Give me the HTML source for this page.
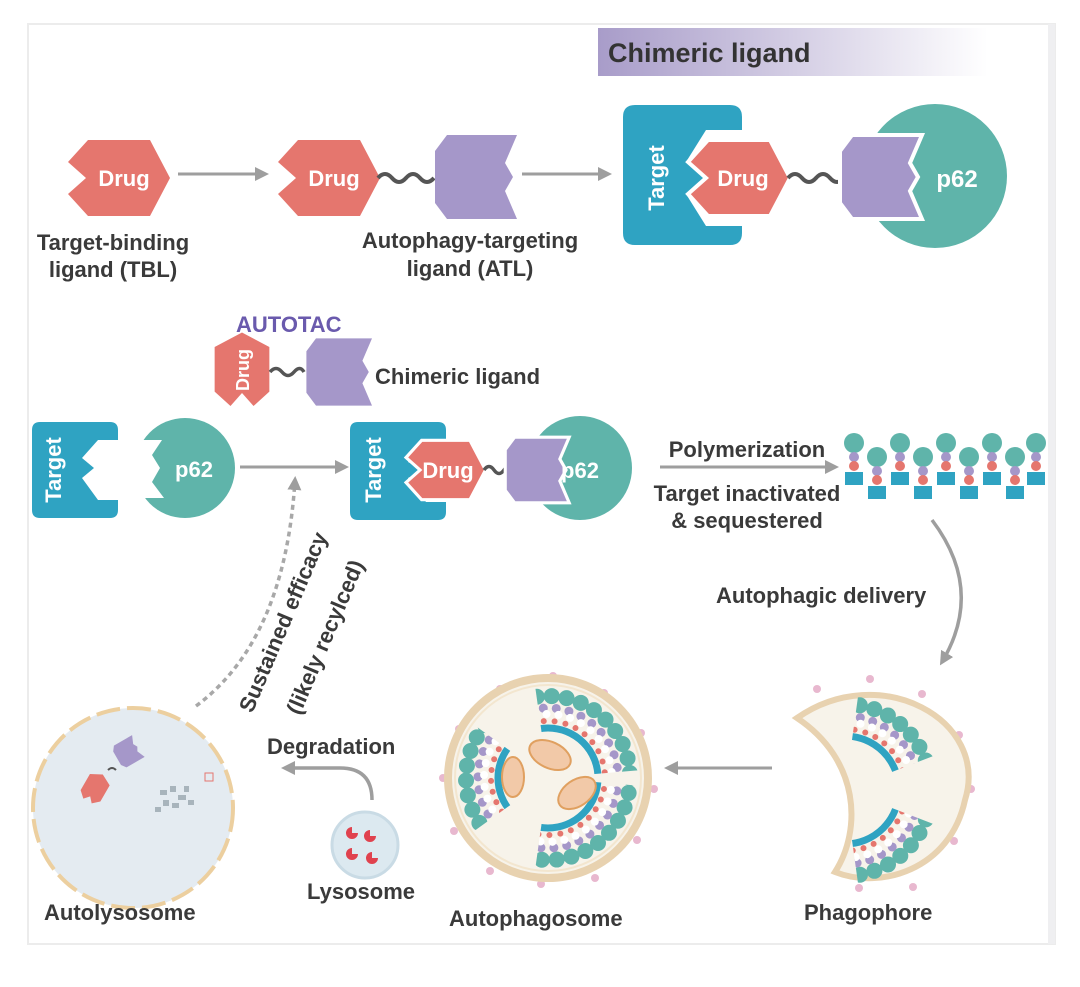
<!DOCTYPE html>
<html><head><meta charset="utf-8"><style>
html,body{margin:0;padding:0;background:#fff;}
svg{display:block;font-family:"Liberation Sans",sans-serif;}
.t{font-size:22px;fill:#3a3a3a;font-weight:bold;}
.w{fill:#fff;font-size:22px;font-weight:bold;}
</style></head><body>
<svg width="1080" height="987" viewBox="0 0 1080 987" xmlns="http://www.w3.org/2000/svg">
<defs>
<linearGradient id="hg" x1="0" x2="1"><stop offset="0" stop-color="#a89cc9"/><stop offset="1" stop-color="#ffffff"/></linearGradient>
<path id="drug" d="M-30,-38 L32,-38 L52,0 L32,38 L-30,38 L-50,16 L-32,0 L-50,-16 Z"/>
<path id="atl" d="M-30,-42 L40,-42 L28,-14 L36,0 L28,14 L40,42 L-30,42 L-42,26 L-42,-26 Z"/>
<marker id="ah2" markerWidth="14" markerHeight="14" refX="10" refY="7" orient="auto" markerUnits="userSpaceOnUse"><path d="M0,0 L14,7 L0,14 Z" fill="#9e9e9e"/></marker>
<clipPath id="w1"><polygon points="548,778 530,650 625,676 678,767"/></clipPath>
<clipPath id="w2"><polygon points="548,778 445,852 420,778 445,704"/></clipPath>
<clipPath id="w3"><polygon points="548,778 678,789 625,880 530,906"/></clipPath>
<clipPath id="p1"><polygon points="845,790 862,668 925,686 962,745"/></clipPath>
<clipPath id="p2"><polygon points="845,790 962,835 925,894 862,912"/></clipPath>
<g id="cargoA">
 <circle cx="548" cy="778" r="82" fill="none" stroke="#5fb4aa" stroke-width="16" stroke-dasharray="0 15" stroke-linecap="round"/>
 <circle cx="548" cy="778" r="70" fill="none" stroke="#a597c9" stroke-width="9" stroke-dasharray="0 13" stroke-linecap="round"/>
 <circle cx="548" cy="778" r="64" fill="none" stroke="#fff" stroke-width="8" stroke-dasharray="0 12" stroke-linecap="round"/>
 <circle cx="548" cy="778" r="57" fill="none" stroke="#e5766e" stroke-width="6" stroke-dasharray="0 11" stroke-linecap="round"/>
 <circle cx="548" cy="778" r="50" fill="none" stroke="#2fa3c2" stroke-width="7"/>
</g>
<g id="cargoP">
 <circle cx="845" cy="790" r="86" fill="none" stroke="#5fb4aa" stroke-width="16" stroke-dasharray="0 15" stroke-linecap="round"/>
 <circle cx="845" cy="790" r="74" fill="none" stroke="#a597c9" stroke-width="9" stroke-dasharray="0 13" stroke-linecap="round"/>
 <circle cx="845" cy="790" r="68" fill="none" stroke="#fff" stroke-width="8" stroke-dasharray="0 12" stroke-linecap="round"/>
 <circle cx="845" cy="790" r="61" fill="none" stroke="#e5766e" stroke-width="6" stroke-dasharray="0 11" stroke-linecap="round"/>
 <circle cx="845" cy="790" r="54" fill="none" stroke="#2fa3c2" stroke-width="7"/>
</g>
</defs>

<rect x="28" y="24" width="1027" height="920" fill="#fff" stroke="#ececec" stroke-width="2"/>
<rect x="1048" y="24" width="7" height="920" fill="#efeff1"/>

<rect x="598" y="28" width="390" height="48" fill="url(#hg)"/>
<text x="608" y="62" style="font-size:27px;fill:#333;font-weight:bold">Chimeric ligand</text>

<!-- top row -->
<use href="#drug" transform="translate(118,178)" fill="#e5766e"/>
<text x="124" y="186" class="w" text-anchor="middle">Drug</text>
<line x1="178" y1="174" x2="265" y2="174" stroke="#9e9e9e" stroke-width="3" marker-end="url(#ah2)"/>
<text x="113" y="250" class="t" text-anchor="middle">Target-binding</text>
<text x="113" y="277" class="t" text-anchor="middle">ligand (TBL)</text>

<use href="#drug" transform="translate(328,178)" fill="#e5766e"/>
<text x="334" y="186" class="w" text-anchor="middle">Drug</text>
<path d="M378,178 q7,-8 14,0 t14,0 t14,0 t14,0" fill="none" stroke="#555" stroke-width="4"/>
<use href="#atl" transform="translate(477,177)" fill="#a597c9"/>
<line x1="522" y1="174" x2="608" y2="174" stroke="#9e9e9e" stroke-width="3" marker-end="url(#ah2)"/>
<text x="470" y="248" class="t" text-anchor="middle">Autophagy-targeting</text>
<text x="470" y="276" class="t" text-anchor="middle">ligand (ATL)</text>

<path d="M635,105 H730 Q742,105 742,117 V130 H706 L686,162 L708,178 L686,194 L706,226 H742 V233 Q742,245 730,245 H635 Q623,245 623,233 V117 Q623,105 635,105 Z" fill="#2fa3c2"/>
<text transform="translate(664,178) rotate(-90)" class="w" text-anchor="middle">Target</text>
<circle cx="935" cy="176" r="72" fill="#5fb4aa"/>
<use href="#drug" transform="translate(738,178)" fill="#e5766e" stroke="#fff" stroke-width="4"/>
<text x="743" y="186" class="w" text-anchor="middle">Drug</text>
<path d="M788,178 q7,-8 14,0 t14,0 t14,0 t14,0" fill="none" stroke="#555" stroke-width="4"/>
<use href="#atl" transform="translate(882,177)" fill="#a597c9" stroke="#fff" stroke-width="4"/>
<text x="957" y="187" class="w" text-anchor="middle" style="font-size:24px">p62</text>

<!-- AUTOTAC -->
<text x="236" y="332" style="font-size:22px;fill:#6a5aad;font-weight:bold">AUTOTAC</text>
<use href="#drug" transform="translate(242,370) rotate(-90) scale(0.72)" fill="#e5766e"/>
<text transform="translate(249,370) rotate(-90)" class="w" text-anchor="middle" style="font-size:18px">Drug</text>
<path d="M270,372 q6,-7 12,0 t12,0 t10,0" fill="none" stroke="#555" stroke-width="3.5"/>
<use href="#atl" transform="translate(340,372) scale(0.8)" fill="#a597c9"/>
<text x="375" y="384" class="t">Chimeric ligand</text>

<!-- row 2 left -->
<path d="M40,422 H110 Q118,422 118,430 V440 H98 L82,458 L94,468 L82,478 L98,500 H118 V510 Q118,518 110,518 H40 Q32,518 32,510 V430 Q32,422 40,422 Z" fill="#2fa3c2"/>
<text transform="translate(61,470) rotate(-90)" class="w" text-anchor="middle">Target</text>
<circle cx="185" cy="468" r="50" fill="#5fb4aa"/>
<path d="M128,428 L130,440 H162 L152,455 L160,468 L152,482 L164,498 H128 Z" fill="#fff"/>
<text x="194" y="477" class="w" text-anchor="middle">p62</text>
<line x1="240" y1="467" x2="345" y2="467" stroke="#9e9e9e" stroke-width="3" marker-end="url(#ah2)"/>

<!-- row 2 middle -->
<path d="M358,422 H438 Q446,422 446,430 V440 H426 L408,462 L424,470 L408,478 L426,502 H446 V512 Q446,520 438,520 H358 Q350,520 350,512 V430 Q350,422 358,422 Z" fill="#2fa3c2"/>
<text transform="translate(381,470) rotate(-90)" class="w" text-anchor="middle">Target</text>
<circle cx="580" cy="468" r="52" fill="#5fb4aa"/>
<use href="#drug" transform="translate(445,470) scale(0.78)" fill="#e5766e" stroke="#fff" stroke-width="4"/>
<text x="448" y="478" class="w" text-anchor="middle">Drug</text>
<path d="M484,470 q5,-7 10,0 t10,0 t8,0" fill="none" stroke="#555" stroke-width="3.5"/>
<use href="#atl" transform="translate(538,470) scale(0.78)" fill="#a597c9" stroke="#fff" stroke-width="4"/>
<text x="580" y="478" class="w" text-anchor="middle">p62</text>

<!-- polymerization -->
<line x1="660" y1="467" x2="835" y2="467" stroke="#9e9e9e" stroke-width="3" marker-end="url(#ah2)"/>
<text x="747" y="457" class="t" text-anchor="middle">Polymerization</text>
<text x="747" y="501" class="t" text-anchor="middle">Target inactivated</text>
<text x="747" y="528" class="t" text-anchor="middle">&amp; sequestered</text>
<g>
 <g transform="translate(854,0)"><circle cx="0" cy="443" r="10" fill="#5fb4aa"/><circle cx="0" cy="457" r="5" fill="#a597c9"/><circle cx="0" cy="466" r="5" fill="#e5766e"/><rect x="-9" y="472" width="18" height="13" fill="#2fa3c2"/></g>
 <g transform="translate(877,14)"><circle cx="0" cy="443" r="10" fill="#5fb4aa"/><circle cx="0" cy="457" r="5" fill="#a597c9"/><circle cx="0" cy="466" r="5" fill="#e5766e"/><rect x="-9" y="472" width="18" height="13" fill="#2fa3c2"/></g>
 <g transform="translate(900,0)"><circle cx="0" cy="443" r="10" fill="#5fb4aa"/><circle cx="0" cy="457" r="5" fill="#a597c9"/><circle cx="0" cy="466" r="5" fill="#e5766e"/><rect x="-9" y="472" width="18" height="13" fill="#2fa3c2"/></g>
 <g transform="translate(923,14)"><circle cx="0" cy="443" r="10" fill="#5fb4aa"/><circle cx="0" cy="457" r="5" fill="#a597c9"/><circle cx="0" cy="466" r="5" fill="#e5766e"/><rect x="-9" y="472" width="18" height="13" fill="#2fa3c2"/></g>
 <g transform="translate(946,0)"><circle cx="0" cy="443" r="10" fill="#5fb4aa"/><circle cx="0" cy="457" r="5" fill="#a597c9"/><circle cx="0" cy="466" r="5" fill="#e5766e"/><rect x="-9" y="472" width="18" height="13" fill="#2fa3c2"/></g>
 <g transform="translate(969,14)"><circle cx="0" cy="443" r="10" fill="#5fb4aa"/><circle cx="0" cy="457" r="5" fill="#a597c9"/><circle cx="0" cy="466" r="5" fill="#e5766e"/><rect x="-9" y="472" width="18" height="13" fill="#2fa3c2"/></g>
 <g transform="translate(992,0)"><circle cx="0" cy="443" r="10" fill="#5fb4aa"/><circle cx="0" cy="457" r="5" fill="#a597c9"/><circle cx="0" cy="466" r="5" fill="#e5766e"/><rect x="-9" y="472" width="18" height="13" fill="#2fa3c2"/></g>
 <g transform="translate(1015,14)"><circle cx="0" cy="443" r="10" fill="#5fb4aa"/><circle cx="0" cy="457" r="5" fill="#a597c9"/><circle cx="0" cy="466" r="5" fill="#e5766e"/><rect x="-9" y="472" width="18" height="13" fill="#2fa3c2"/></g>
 <g transform="translate(1036,0)"><circle cx="0" cy="443" r="10" fill="#5fb4aa"/><circle cx="0" cy="457" r="5" fill="#a597c9"/><circle cx="0" cy="466" r="5" fill="#e5766e"/><rect x="-9" y="472" width="18" height="13" fill="#2fa3c2"/></g>
</g>

<path d="M932,520 Q985,590 942,662" fill="none" stroke="#9e9e9e" stroke-width="3.5" marker-end="url(#ah2)"/>
<text x="716" y="603" class="t">Autophagic delivery</text>

<!-- phagophore -->
<g fill="#e8b8cf"><circle cx="870" cy="679" r="4"/><circle cx="817" cy="689" r="4"/><circle cx="922" cy="694" r="4"/><circle cx="959" cy="735" r="4"/><circle cx="971" cy="789" r="4"/><circle cx="954" cy="841" r="4"/><circle cx="913" cy="887" r="4"/><circle cx="859" cy="888" r="4"/></g>
<path d="M797,718 C880,660 990,720 965,800 C950,870 880,890 835,872 C862,830 860,760 797,718 Z" fill="#f7f3ea" stroke="#e8d2b0" stroke-width="6"/>
<use href="#cargoP" clip-path="url(#p1)"/>
<use href="#cargoP" clip-path="url(#p2)"/>
<text x="804" y="920" class="t">Phagophore</text>

<line x1="772" y1="768" x2="668" y2="768" stroke="#9e9e9e" stroke-width="3" marker-end="url(#ah2)"/>

<!-- autophagosome -->
<g fill="#e8b8cf"><circle cx="553" cy="676" r="4"/><circle cx="500" cy="689" r="4"/><circle cx="604" cy="693" r="4"/><circle cx="459" cy="729" r="4"/><circle cx="641" cy="733" r="4"/><circle cx="443" cy="778" r="4"/><circle cx="654" cy="789" r="4"/><circle cx="454" cy="831" r="4"/><circle cx="637" cy="840" r="4"/><circle cx="490" cy="871" r="4"/><circle cx="595" cy="878" r="4"/><circle cx="541" cy="884" r="4"/></g>
<circle cx="548" cy="778" r="100" fill="#f7f3ea" stroke="#e8d2b0" stroke-width="8"/>
<circle cx="548" cy="778" r="93" fill="none" stroke="#f3e6cf" stroke-width="2"/>
<use href="#cargoA" clip-path="url(#w1)"/>
<use href="#cargoA" clip-path="url(#w2)"/>
<use href="#cargoA" clip-path="url(#w3)"/>
<g fill="#f2c9a8" stroke="#e0a060" stroke-width="2">
<ellipse cx="550" cy="755" rx="22" ry="13" transform="rotate(25 550 755)"/>
<ellipse cx="513" cy="777" rx="11" ry="20"/>
<ellipse cx="577" cy="793" rx="21" ry="13" transform="rotate(-35 577 793)"/>
</g>
<text x="449" y="926" class="t">Autophagosome</text>

<!-- degradation -->
<path d="M372,800 Q372,768 340,768 L285,768" fill="none" stroke="#9e9e9e" stroke-width="3.5" marker-end="url(#ah2)"/>
<text x="267" y="754" class="t">Degradation</text>
<circle cx="365" cy="845" r="33" fill="#dce9f0" stroke="#c9dbe5" stroke-width="3"/>
<g fill="#e0424e"><path d="M352,827 a6,6 0 1 0 6,6 h-6 z"/><path d="M370,830 a6,6 0 1 0 6,6 h-6 z"/><path d="M352,848 a6,6 0 1 0 6,6 h-6 z"/><path d="M372,852 a6,6 0 1 0 6,6 h-6 z"/></g>
<text x="307" y="899" class="t">Lysosome</text>

<!-- autolysosome -->
<circle cx="133" cy="808" r="100" fill="#e4ebf1" stroke="#eccf9f" stroke-width="4" stroke-dasharray="24 7"/>
<use href="#atl" transform="translate(128,752) rotate(-30) scale(0.3)" fill="#a597c9"/>
<use href="#drug" transform="translate(95,788) rotate(-60) scale(0.3)" fill="#e5766e"/>
<path d="M108,770 q4,-4 8,0" stroke="#555" stroke-width="2" fill="none"/>
<g fill="#a8b4bc"><rect x="160" y="790" width="7" height="5"/><rect x="170" y="786" width="6" height="6"/><rect x="178" y="795" width="8" height="5"/><rect x="163" y="800" width="6" height="6"/><rect x="172" y="803" width="7" height="5"/><rect x="184" y="786" width="5" height="6"/><rect x="155" y="807" width="6" height="5"/><rect x="188" y="800" width="6" height="5"/></g>
<rect x="205" y="773" width="8" height="8" fill="none" stroke="#e5766e" stroke-width="1"/>
<text x="44" y="920" class="t">Autolysosome</text>

<!-- sustained efficacy -->
<path d="M196,706 Q285,640 295,480" fill="none" stroke="#a8a8a8" stroke-width="3.5" stroke-dasharray="5 4" marker-end="url(#ah2)"/>
<text transform="translate(290,625) rotate(-67)" class="t" text-anchor="middle">Sustained efficacy</text>
<text transform="translate(332,640) rotate(-67)" class="t" text-anchor="middle">(likely recylced)</text>
</svg>
</body></html>
